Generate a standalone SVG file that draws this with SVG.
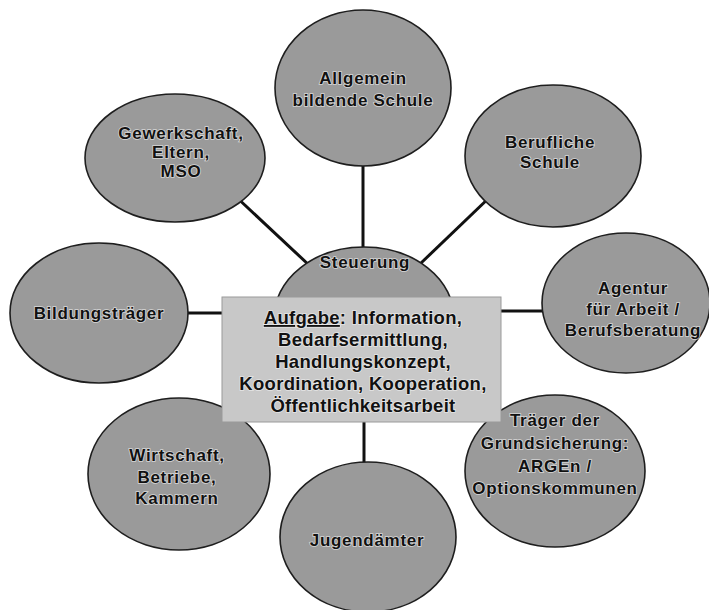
<svg xmlns="http://www.w3.org/2000/svg" width="709" height="610" viewBox="0 0 709 610">
<defs>
<style>
.node{fill:#9a9a9a;stroke:#1e1e1e;stroke-width:1.6}
.box{fill:#c8c8c8;stroke:#9a9a9a;stroke-width:1}
.conn line{stroke:#111;stroke-width:3}
text{font-family:"Liberation Sans",Arial,sans-serif;font-weight:bold;font-size:17px;letter-spacing:0.7px;fill:#111;text-anchor:middle;stroke:#f4f4f4;stroke-width:1.6px;stroke-opacity:0.7;paint-order:stroke}
.big{font-size:18.5px;letter-spacing:0.3px}
</style>
</defs>
<rect width="709" height="610" fill="#ffffff"/>
<g id="connectors" class="conn">
<line x1="363" y1="160" x2="363" y2="252"/>
<line x1="232" y1="193" x2="310" y2="266"/>
<line x1="492" y1="195" x2="420" y2="264"/>
<line x1="185" y1="313" x2="226" y2="313"/>
<line x1="497" y1="311" x2="548" y2="311"/>
<line x1="364" y1="418" x2="364" y2="468"/>
</g>
<g id="allgemein">
<ellipse class="node" cx="363" cy="88" rx="88" ry="78"/>
<text x="363" y="84">Allgemein</text>
<text x="363" y="106">bildende Schule</text>
</g>
<g id="gewerkschaft">
<ellipse class="node" cx="175" cy="158" rx="90" ry="64"/>
<text x="181" y="139">Gewerkschaft,</text>
<text x="181" y="158">Eltern,</text>
<text x="181" y="177">MSO</text>
</g>
<g id="berufliche">
<ellipse class="node" cx="553" cy="156" rx="88" ry="71"/>
<text x="550" y="148">Berufliche</text>
<text x="550" y="168">Schule</text>
</g>
<g id="bildungstraeger">
<ellipse class="node" cx="99" cy="313" rx="89" ry="70"/>
<text x="99" y="319">Bildungsträger</text>
</g>
<g id="agentur">
<ellipse class="node" cx="626" cy="303" rx="84" ry="70"/>
<text x="633" y="294">Agentur</text>
<text x="633" y="315">für Arbeit /</text>
<text x="633" y="336">Berufsberatung</text>
</g>
<g id="wirtschaft">
<ellipse class="node" cx="179" cy="474" rx="91" ry="76"/>
<text x="177" y="461">Wirtschaft,</text>
<text x="177" y="483">Betriebe,</text>
<text x="177" y="504">Kammern</text>
</g>
<g id="traeger">
<ellipse class="node" cx="555" cy="471" rx="90" ry="76"/>
<text x="555" y="426">Träger der</text>
<text x="555" y="449">Grundsicherung:</text>
<text x="555" y="472">ARGEn /</text>
<text x="555" y="494">Optionskommunen</text>
</g>
<g id="jugendaemter">
<ellipse class="node" cx="368" cy="537" rx="88" ry="75"/>
<text x="367" y="546">Jugendämter</text>
</g>
<g id="steuerung">
<ellipse class="node" cx="364" cy="318" rx="90" ry="71"/>
<text x="365" y="268">Steuerung</text>
</g>
<g id="aufgabe">
<rect class="box" x="222" y="297" width="279" height="125"/>
<text class="big" x="363" y="324"><tspan text-decoration="underline">Aufgabe</tspan>: Information,</text>
<text class="big" x="363" y="346">Bedarfsermittlung,</text>
<text class="big" x="363" y="368">Handlungskonzept,</text>
<text class="big" x="363" y="390">Koordination, Kooperation,</text>
<text class="big" x="363" y="412">Öffentlichkeitsarbeit</text>
</g>
</svg>
